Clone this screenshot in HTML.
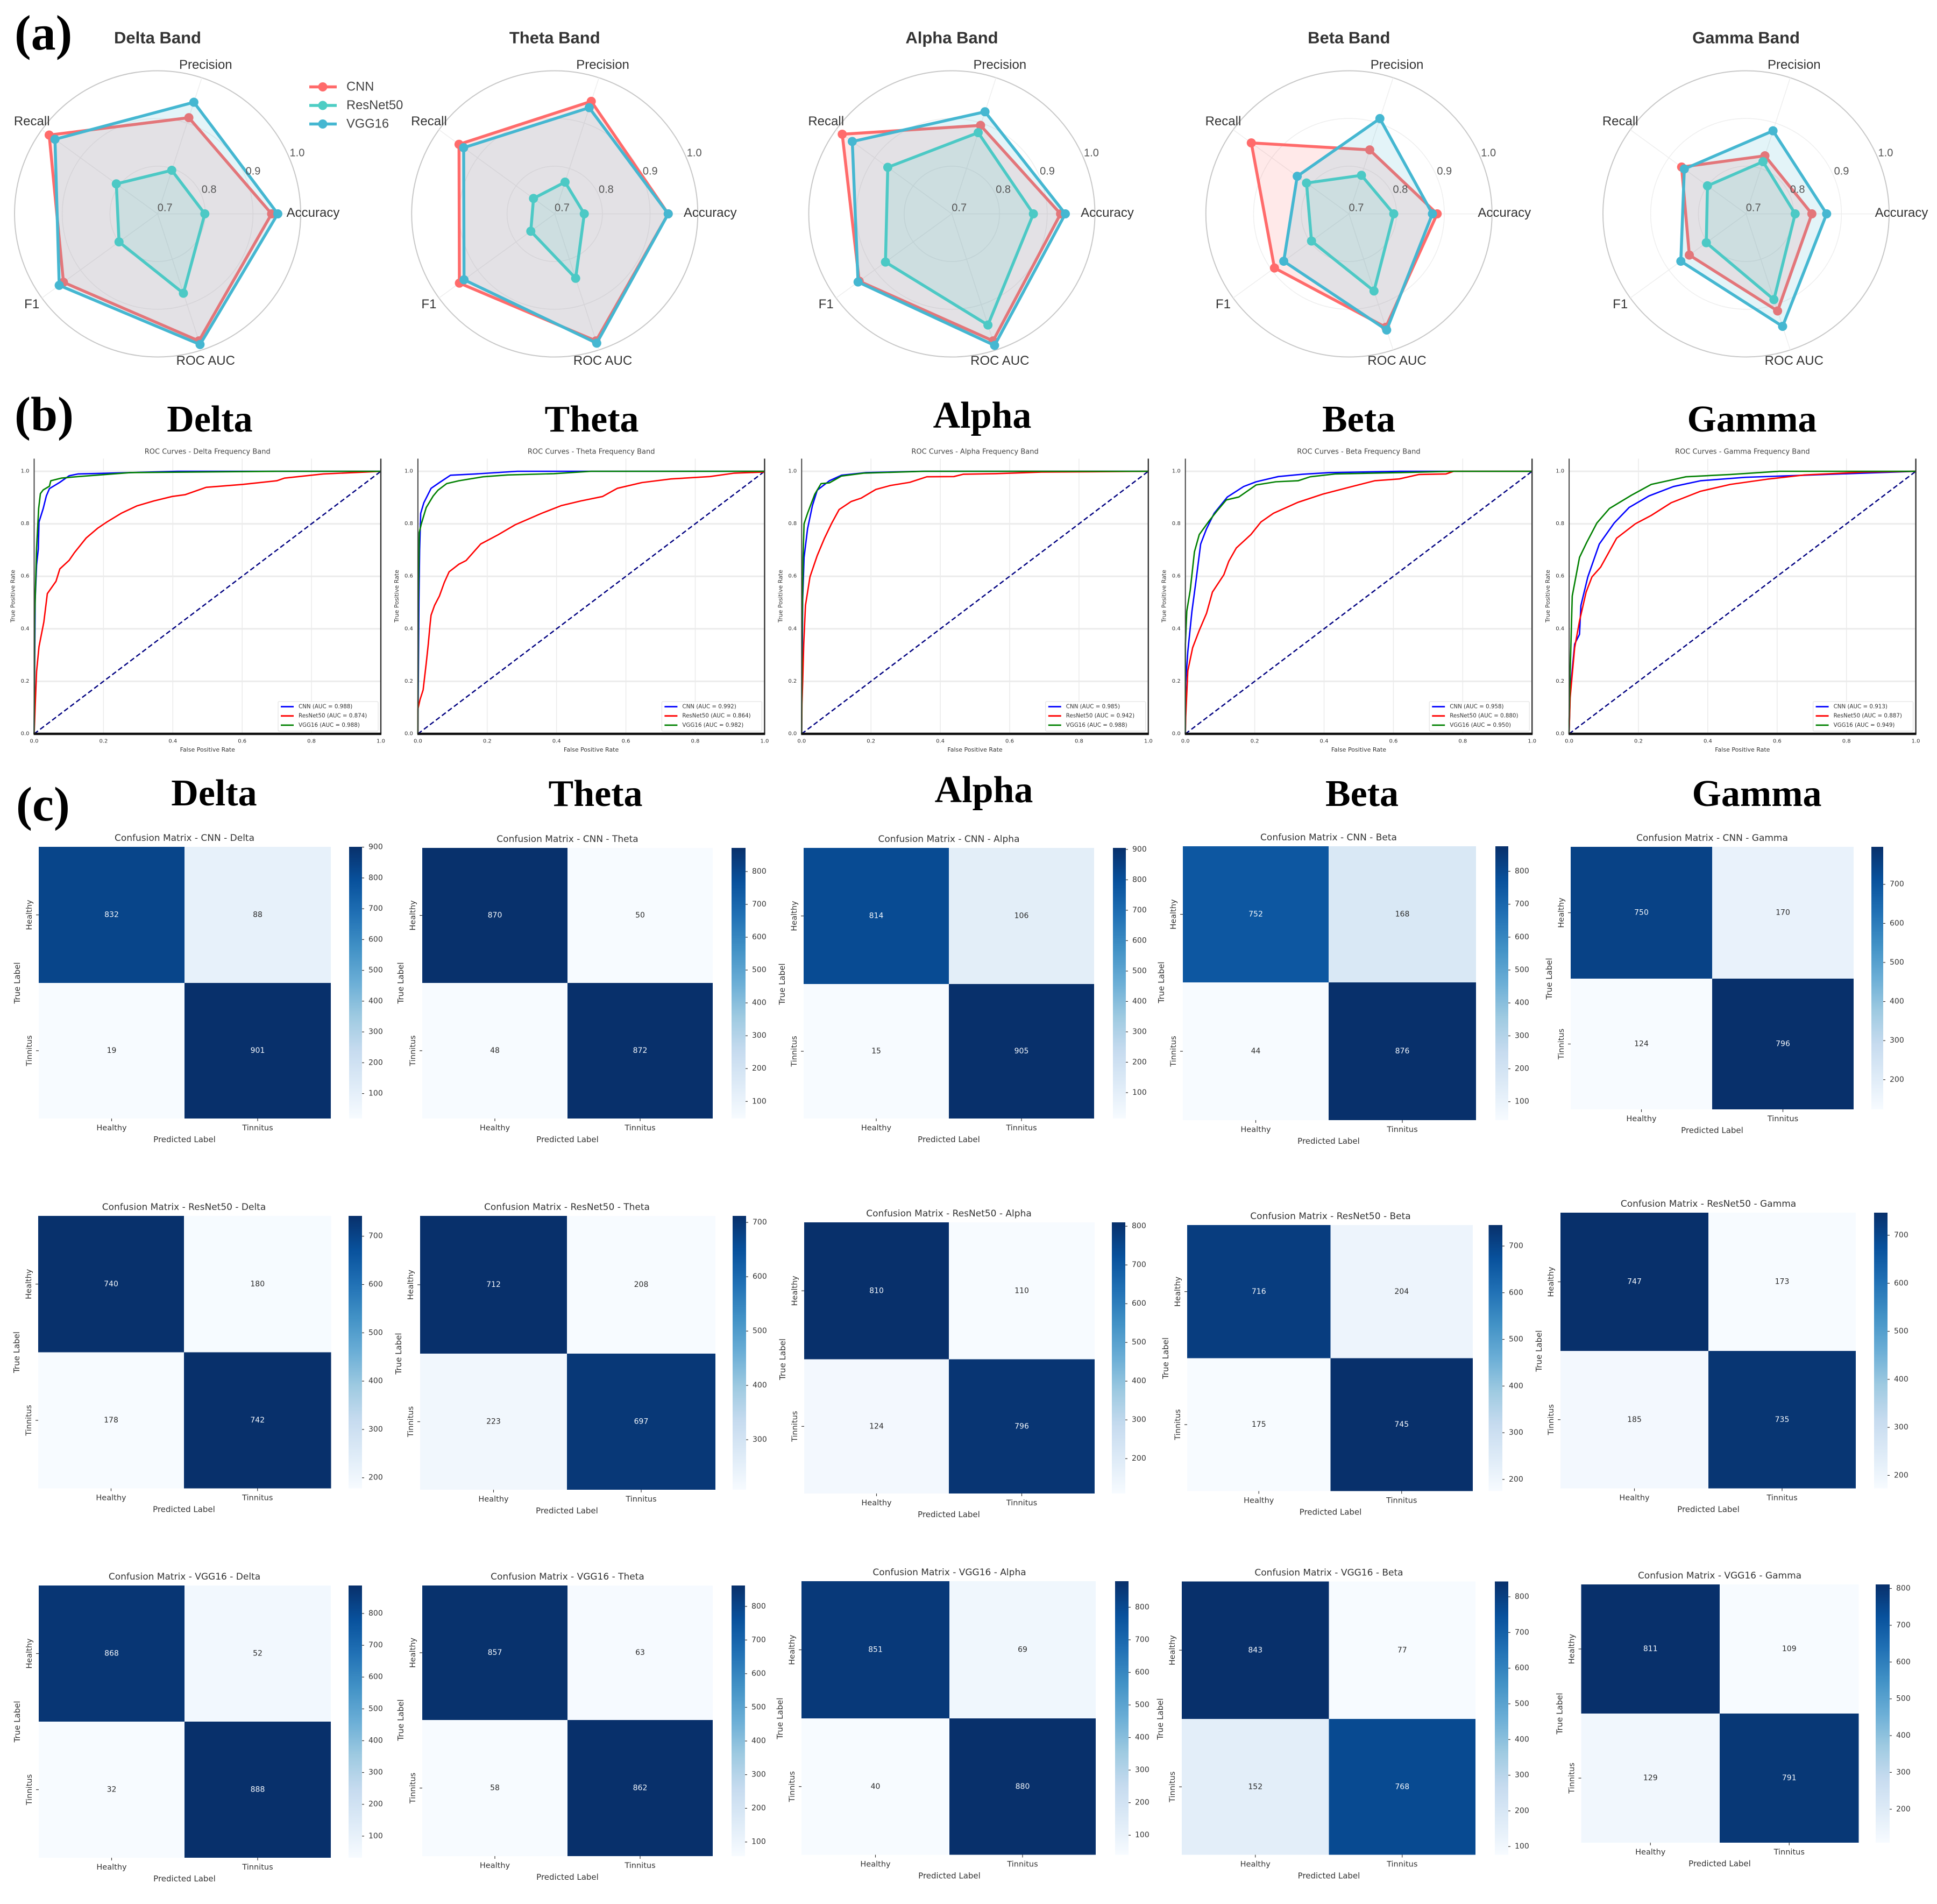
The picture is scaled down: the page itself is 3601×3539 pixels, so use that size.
<!DOCTYPE html>
<html lang="en">
<head>
<meta charset="utf-8">
<title>Radar, ROC and confusion matrix comparison across EEG bands</title>
<style>
html,body{margin:0;padding:0;background:#fff;}
svg{display:block;}
.serif{font-family:"Liberation Serif",serif;font-weight:bold;fill:#000;}
</style>
</head>
<body>
<svg id="figure" xmlns="http://www.w3.org/2000/svg" width="3601" height="3539" viewBox="0 0 3601 3539">
<defs>
<linearGradient id="blues" x1="0" y1="1" x2="0" y2="0">
<stop offset="0" stop-color="#f7fbff"/><stop offset="0.125" stop-color="#deebf7"/><stop offset="0.25" stop-color="#c6dbef"/><stop offset="0.375" stop-color="#9ecae1"/><stop offset="0.5" stop-color="#6baed6"/><stop offset="0.625" stop-color="#4292c6"/><stop offset="0.75" stop-color="#2171b5"/><stop offset="0.875" stop-color="#08519c"/><stop offset="1" stop-color="#08306b"/>
</linearGradient>
</defs>
<rect x="0" y="0" width="3601" height="3539" fill="#fff"/>
<text class="serif" x="27" y="92" font-size="92">(a)</text>
<text class="serif" x="27" y="800" font-size="90">(b)</text>
<text class="serif" x="30" y="1525" font-size="90">(c)</text>
<text class="serif" x="390" y="802" font-size="70" text-anchor="middle">Delta</text>
<text class="serif" x="1100" y="802" font-size="70" text-anchor="middle">Theta</text>
<text class="serif" x="1826" y="795" font-size="70" text-anchor="middle">Alpha</text>
<text class="serif" x="2526" y="802" font-size="70" text-anchor="middle">Beta</text>
<text class="serif" x="3257" y="802" font-size="70" text-anchor="middle">Gamma</text>
<text class="serif" x="398" y="1497" font-size="70" text-anchor="middle">Delta</text>
<text class="serif" x="1107" y="1498" font-size="70" text-anchor="middle">Theta</text>
<text class="serif" x="1829" y="1491" font-size="70" text-anchor="middle">Alpha</text>
<text class="serif" x="2532" y="1498" font-size="70" text-anchor="middle">Beta</text>
<text class="serif" x="3266" y="1498" font-size="70" text-anchor="middle">Gamma</text>
</svg>
<script>
// ---------- shared categories ----------
const bands = ['Delta', 'Theta', 'Alpha', 'Beta', 'Gamma'];
const models = ['CNN', 'ResNet50', 'VGG16'];
const metrics = ['Accuracy', 'Precision', 'Recall', 'F1', 'ROC AUC'];
const radialTicks = [0.7, 0.8, 0.9, 1.0];
const rocTicks = [0, 0.2, 0.4, 0.6, 0.8, 1.0];
const cmClasses = ['Healthy', 'Tinnitus'];

// ---------- radar values: one row per band, columns follow metrics ----------
const radarCnn = [
  [0.939, 0.912, 0.981, 0.944, 0.980],
  [0.938, 0.948, 0.948, 0.947, 0.980],
  [0.928, 0.895, 0.984, 0.940, 0.980],
  [0.885, 0.841, 0.953, 0.893, 0.950],
  [0.838, 0.828, 0.867, 0.847, 0.914]
];
const radarResNet = [
  [0.799, 0.796, 0.807, 0.800, 0.875],
  [0.762, 0.770, 0.755, 0.762, 0.842],
  [0.871, 0.879, 0.866, 0.872, 0.945],
  [0.794, 0.785, 0.810, 0.797, 0.870],
  [0.803, 0.815, 0.800, 0.803, 0.889]
];
const radarVgg = [
  [0.952, 0.946, 0.966, 0.955, 0.988],
  [0.938, 0.934, 0.936, 0.935, 0.985],
  [0.938, 0.925, 0.958, 0.943, 0.990],
  [0.875, 0.910, 0.834, 0.869, 0.956],
  [0.869, 0.883, 0.860, 0.869, 0.948]
];

// ---------- ROC curves ----------
const deltaCnnFpr = [0, 0.0015, 0.003, 0.007, 0.012, 0.014, 0.026, 0.035, 0.044, 0.074, 0.101, 0.127, 0.278, 0.413, 1];
const deltaCnnTpr = [0, 0.285, 0.51, 0.643, 0.704, 0.807, 0.858, 0.906, 0.934, 0.958, 0.983, 0.99, 0.995, 1, 1];
const deltaResFpr = [0, 0.003, 0.007, 0.014, 0.028, 0.038, 0.063, 0.074, 0.101, 0.116, 0.15, 0.184, 0.21, 0.251, 0.296, 0.345, 0.398, 0.436, 0.496, 0.601, 0.70, 0.722, 0.834, 0.955, 1];
const deltaResTpr = [0, 0.106, 0.238, 0.332, 0.426, 0.534, 0.581, 0.628, 0.661, 0.69, 0.746, 0.784, 0.807, 0.84, 0.868, 0.887, 0.904, 0.911, 0.939, 0.95, 0.964, 0.974, 0.99, 0.997, 1];
const deltaVggFpr = [0, 0.0015, 0.007, 0.013, 0.018, 0.026, 0.044, 0.048, 0.078, 0.127, 0.278, 0.70, 1];
const deltaVggTpr = [0, 0.445, 0.708, 0.859, 0.915, 0.929, 0.943, 0.964, 0.974, 0.98, 0.995, 1, 1];

const thetaCnnFpr = [0, 0.003, 0.005, 0.008, 0.017, 0.038, 0.062, 0.094, 0.167, 0.287, 1];
const thetaCnnTpr = [0, 0.5, 0.7, 0.84, 0.88, 0.935, 0.957, 0.985, 0.99, 1, 1];
const thetaResFpr = [0, 0, 0.006, 0.015, 0.024, 0.03, 0.035, 0.038, 0.048, 0.062, 0.076, 0.09, 0.118, 0.139, 0.181, 0.231, 0.28, 0.357, 0.413, 0.47, 0.533, 0.575, 0.646, 0.73, 0.842, 0.913, 0.997, 1];
const thetaResTpr = [0, 0.094, 0.13, 0.167, 0.269, 0.342, 0.416, 0.452, 0.489, 0.525, 0.576, 0.617, 0.646, 0.66, 0.723, 0.758, 0.796, 0.84, 0.869, 0.887, 0.904, 0.935, 0.957, 0.971, 0.98, 0.993, 0.997, 1];
const thetaVggFpr = [0, 0.001, 0.004, 0.01, 0.024, 0.044, 0.058, 0.083, 0.118, 0.188, 0.259, 0.392, 0.5, 1];
const thetaVggTpr = [0, 0.49, 0.767, 0.80, 0.862, 0.906, 0.928, 0.953, 0.964, 0.979, 0.986, 0.991, 1, 1];

const alphaCnnFpr = [0, 0.003, 0.007, 0.017, 0.031, 0.045, 0.08, 0.115, 0.186, 0.347, 1];
const alphaCnnTpr = [0, 0.51, 0.672, 0.781, 0.869, 0.928, 0.964, 0.985, 0.995, 1, 1];
const alphaResFpr = [0, 0.001, 0.003, 0.006, 0.011, 0.024, 0.045, 0.066, 0.087, 0.108, 0.143, 0.172, 0.214, 0.256, 0.312, 0.361, 0.439, 0.467, 0.558, 0.692, 1];
const alphaResTpr = [0, 0.116, 0.196, 0.342, 0.489, 0.598, 0.679, 0.745, 0.803, 0.854, 0.885, 0.898, 0.931, 0.946, 0.958, 0.979, 0.98, 0.989, 0.991, 0.997, 1];
const alphaVggFpr = [0, 0.001, 0.004, 0.007, 0.017, 0.038, 0.056, 0.08, 0.115, 0.179, 0.354, 1];
const alphaVggTpr = [0, 0.342, 0.672, 0.80, 0.84, 0.913, 0.953, 0.956, 0.982, 0.993, 1, 1];

const betaCnnFpr = [0, 0.001, 0.007, 0.019, 0.03, 0.044, 0.061, 0.083, 0.121, 0.168, 0.204, 0.268, 0.339, 0.417, 0.617, 1];
const betaCnnTpr = [0, 0.196, 0.313, 0.467, 0.576, 0.723, 0.781, 0.84, 0.902, 0.942, 0.96, 0.98, 0.989, 0.995, 1, 1];
const betaResFpr = [0, 0.001, 0.007, 0.021, 0.04, 0.061, 0.078, 0.111, 0.125, 0.147, 0.189, 0.218, 0.254, 0.325, 0.396, 0.481, 0.546, 0.617, 0.674, 0.752, 0.774, 1];
const betaResTpr = [0, 0.064, 0.24, 0.328, 0.394, 0.459, 0.54, 0.606, 0.657, 0.708, 0.759, 0.807, 0.84, 0.882, 0.913, 0.942, 0.964, 0.971, 0.988, 0.99, 1, 1];
const betaVggFpr = [0, 0, 0.004, 0.014, 0.026, 0.04, 0.068, 0.09, 0.118, 0.154, 0.204, 0.261, 0.325, 0.36, 0.432, 0.617, 0.774, 1];
const betaVggTpr = [0, 0.342, 0.467, 0.547, 0.693, 0.759, 0.81, 0.847, 0.891, 0.902, 0.948, 0.96, 0.964, 0.979, 0.99, 0.995, 1, 1];

const gammaCnnFpr = [0, 0.003, 0.016, 0.03, 0.034, 0.054, 0.087, 0.13, 0.173, 0.23, 0.301, 0.379, 0.508, 0.679, 0.893, 1];
const gammaCnnTpr = [0, 0.159, 0.342, 0.379, 0.489, 0.598, 0.723, 0.803, 0.862, 0.906, 0.942, 0.964, 0.977, 0.985, 0.995, 1];
const gammaResFpr = [0, 0.003, 0.016, 0.03, 0.049, 0.066, 0.091, 0.137, 0.191, 0.237, 0.294, 0.379, 0.465, 0.572, 0.679, 0.85, 1];
const gammaResTpr = [0, 0.138, 0.328, 0.43, 0.54, 0.598, 0.635, 0.745, 0.80, 0.832, 0.88, 0.924, 0.95, 0.97, 0.986, 0.997, 1];
const gammaVggFpr = [0, 0, 0.003, 0.009, 0.03, 0.051, 0.08, 0.116, 0.18, 0.237, 0.337, 0.465, 0.607, 1];
const gammaVggTpr = [0, 0.05, 0.233, 0.525, 0.672, 0.73, 0.803, 0.858, 0.909, 0.95, 0.979, 0.988, 1, 1];

const aucCnn = ['0.988', '0.992', '0.985', '0.958', '0.913'];
const aucResNet = ['0.874', '0.864', '0.942', '0.880', '0.887'];
const aucVgg = ['0.988', '0.982', '0.988', '0.950', '0.949'];

// ---------- confusion matrix counts: [TL, TR, BL, BR] ----------
const cmCnnDelta = [832, 88, 19, 901];
const cmCnnTheta = [870, 50, 48, 872];
const cmCnnAlpha = [814, 106, 15, 905];
const cmCnnBeta = [752, 168, 44, 876];
const cmCnnGamma = [750, 170, 124, 796];
const cmResNetDelta = [740, 180, 178, 742];
const cmResNetTheta = [712, 208, 223, 697];
const cmResNetAlpha = [810, 110, 124, 796];
const cmResNetBeta = [716, 204, 175, 745];
const cmResNetGamma = [747, 173, 185, 735];
const cmVggDelta = [868, 52, 32, 888];
const cmVggTheta = [857, 63, 58, 862];
const cmVggAlpha = [851, 69, 40, 880];
const cmVggBeta = [843, 77, 152, 768];
const cmVggGamma = [811, 109, 129, 791];

// ---------- references and page layout (not data) ----------
const rocFprByBand = [
  [deltaCnnFpr, deltaResFpr, deltaVggFpr],
  [thetaCnnFpr, thetaResFpr, thetaVggFpr],
  [alphaCnnFpr, alphaResFpr, alphaVggFpr],
  [betaCnnFpr, betaResFpr, betaVggFpr],
  [gammaCnnFpr, gammaResFpr, gammaVggFpr]
];
const rocTprByBand = [
  [deltaCnnTpr, deltaResTpr, deltaVggTpr],
  [thetaCnnTpr, thetaResTpr, thetaVggTpr],
  [alphaCnnTpr, alphaResTpr, alphaVggTpr],
  [betaCnnTpr, betaResTpr, betaVggTpr],
  [gammaCnnTpr, gammaResTpr, gammaVggTpr]
];
const cmGrid = [
  [cmCnnDelta, cmCnnTheta, cmCnnAlpha, cmCnnBeta, cmCnnGamma],
  [cmResNetDelta, cmResNetTheta, cmResNetAlpha, cmResNetBeta, cmResNetGamma],
  [cmVggDelta, cmVggTheta, cmVggAlpha, cmVggBeta, cmVggGamma]
];
// each box: left, midX, right, top, midY, bottom, colorbarLeft, colorbarRight
const cmBoxes = [
  [[72,343,615,1574,1827,2079,649,673],[785,1055,1325,1576,1827,2079,1360,1386],[1494,1764,2034,1576,1829,2079,2069,2093],[2199,2470,2744,1573,1826,2082,2780,2804],[2920,3183,3446,1574,1819,2062,3479,3501]],
  [[71,342,615.5,2260,2513.5,2766.5,648,673],[781,1054,1330,2260,2516,2769,1362,1387],[1495,1764,2035,2272,2526.5,2776,2067,2092],[2207,2473.5,2738,2277,2524.5,2771.5,2767.5,2793],[2901,3176,3450,2254,2511,2766.5,3484,3509]],
  [[72,343,615,2947,3200,3453,648,673],[785,1055,1325,2947,3197,3450,1360,1385],[1490,1765,2037,2939,3194,3447.5,2073,2098],[2197,2470.5,2743,2939.5,3195,3447.5,2779,2804],[2939.5,3197,3455.5,2945,3185,3425,3487,3513]]
];
const radarColors = ['#FF6B6B', '#4ECDC4', '#45B7D1'];
const rocColors = ['#0000ff', '#ff0000', '#008000'];
const bluesStops = [[247,251,255],[222,235,247],[198,219,239],[158,202,225],[107,174,214],[66,146,198],[33,113,181],[8,81,156],[8,48,107]];

const SVG_NS = 'http://www.w3.org/2000/svg';
const root = document.getElementById('figure');
const SANS = '"Liberation Sans", sans-serif';
const DEJAVU = '"DejaVu Sans", sans-serif';

function mk(tag, attrs, parent, content) {
  const el = document.createElementNS(SVG_NS, tag);
  for (const k in attrs) el.setAttribute(k, attrs[k]);
  if (content !== undefined) el.textContent = content;
  parent.appendChild(el);
  return el;
}
function label(parent, x, y, str, size, family, fill, anchor, rotate) {
  const attrs = {x: x, y: y, 'font-size': size, 'font-family': family, fill: fill, 'text-anchor': anchor || 'middle', 'dominant-baseline': 'central'};
  if (rotate) attrs.transform = 'rotate(' + rotate + ' ' + x + ' ' + y + ')';
  return mk('text', attrs, parent, str);
}
function slug(s) { return s.toLowerCase().replace(/[^a-z0-9]+/g, '-'); }

// ---------- radar panels ----------
const RADAR_CY = 397.5, RADAR_R = 266, RADAR_MIN = 0.7, RADAR_MAX = 1.0;
function radarCx(b) { return 293 + b * 738.25; }
function radarRadius(v) { return (v - RADAR_MIN) / (RADAR_MAX - RADAR_MIN) * RADAR_R; }
function radarAngle(i) { return i * 2 * Math.PI / metrics.length; }
function radarPoint(cx, i, r) { return [cx + r * Math.cos(radarAngle(i)), RADAR_CY - r * Math.sin(radarAngle(i))]; }

bands.forEach(function (band, b) {
  const cx = radarCx(b);
  const g = mk('g', {}, root);
  
  

  const title = label(g, cx, 70, band + ' Band', 31, SANS, '#333');
  title.setAttribute('font-weight', 'bold');
  
  

  radialTicks.forEach(function (t) {
    const r = radarRadius(t);
    if (r > 0) {
      const ring = mk('circle', {cx: cx, cy: RADAR_CY, r: r, fill: 'none', stroke: t === RADAR_MAX ? '#c8c8c8' : '#eeeeee', 'stroke-width': t === RADAR_MAX ? 2 : 1.5}, g);
      
      
    }
  });
  metrics.forEach(function (m, i) {
    const p = radarPoint(cx, i, RADAR_R);
    const spoke = mk('line', {x1: cx, y1: RADAR_CY, x2: p[0], y2: p[1], stroke: '#eeeeee', 'stroke-width': 1.5}, g);
    
    
  });

  [radarCnn, radarResNet, radarVgg].forEach(function (series, s) {
    const pts = series[b].map(function (v, i) { return radarPoint(cx, i, radarRadius(v)); });
    const sg = mk('g', {}, g);
    
    
    const poly = mk('polygon', {points: pts.map(function (p) { return p.join(','); }).join(' '), fill: radarColors[s], 'fill-opacity': 0.15, stroke: radarColors[s], 'stroke-width': 5.5, 'stroke-linejoin': 'round'}, sg);
    
    
    pts.forEach(function (p) {
      const dot = mk('circle', {cx: p[0], cy: p[1], r: 8.5, fill: radarColors[s]}, sg);
      
      
    });
  });

  radialTicks.forEach(function (t) {
    const r = radarRadius(t);
    const a = Math.PI / 8;
    const tick = label(g, cx + r * Math.cos(a) + 13.7, RADAR_CY - r * Math.sin(a) - 11, t.toFixed(1), 20, SANS, '#555');
    
    
  });
  metrics.forEach(function (m, i) {
    const p = radarPoint(cx, i, 289);
    const lab = label(g, p[0], p[1] - 2, m, 24, SANS, '#333');
    
    
  });
});

// radar legend
(function () {
  const g = mk('g', {}, root);
  
  
  models.forEach(function (m, s) {
    const y = 161.5 + s * 34.5;
    const line = mk('line', {x1: 575, y1: y, x2: 626, y2: y, stroke: radarColors[s], 'stroke-width': 5.5}, g);
    
    
    const dot = mk('circle', {cx: 600, cy: y, r: 8.5, fill: radarColors[s]}, g);
    
    
    const txt = label(g, 644, y, m, 23.7, SANS, '#444', 'start');
    
    
  });
})();

// ---------- ROC panels ----------
const ROC_WIDTH = 644.5, ROC_BOTTOM = 1364, ROC_UNIT = 488, ROC_TOP = 852.5;
function rocLeft(b) { return 63.5 + b * 713.4; }
function rocX(b, f) { return rocLeft(b) + f * ROC_WIDTH; }
function rocY(t) { return ROC_BOTTOM - t * ROC_UNIT; }

bands.forEach(function (band, b) {
  const left = rocLeft(b), right = left + ROC_WIDTH;
  const g = mk('g', {}, root);
  
  

  const title = label(g, left + ROC_WIDTH / 2, 840, 'ROC Curves - ' + band + ' Frequency Band', 13, DEJAVU, '#444');
  
  

  rocTicks.forEach(function (t) {
    const gh = mk('line', {x1: left, x2: right, y1: rocY(t), y2: rocY(t), stroke: '#ececec', 'stroke-width': 3}, g);
    
    
    const gv = mk('line', {x1: rocX(b, t), x2: rocX(b, t), y1: ROC_TOP, y2: ROC_BOTTOM, stroke: '#eaeaea', 'stroke-width': 1.5}, g);
    
    
    const tx = label(g, rocX(b, t), 1378, t.toFixed(1), 10, DEJAVU, '#333');
    
    
    const ty = label(g, left - 9, rocY(t), t.toFixed(1), 10, DEJAVU, '#333', 'end');
    
    
  });

  const diag = mk('line', {x1: rocX(b, 0), y1: rocY(0), x2: rocX(b, 1), y2: rocY(1), stroke: '#000080', 'stroke-width': 2.4, 'stroke-dasharray': '9 5'}, g);
  
  

  models.forEach(function (m, s) {
    const fpr = rocFprByBand[b][s], tpr = rocTprByBand[b][s];
    const pts = fpr.map(function (f, i) { return rocX(b, f).toFixed(1) + ',' + rocY(tpr[i]).toFixed(1); }).join(' ');
    const curve = mk('polyline', {points: pts, fill: 'none', stroke: rocColors[s], 'stroke-width': 2.6, 'stroke-linejoin': 'round'}, g);
    
    
  });

  const spineL = mk('line', {x1: left, x2: left, y1: ROC_TOP, y2: ROC_BOTTOM, stroke: '#444', 'stroke-width': 2}, g);
  
  
  const spineR = mk('line', {x1: right, x2: right, y1: ROC_TOP, y2: ROC_BOTTOM, stroke: '#333', 'stroke-width': 2.4}, g);
  
  
  const spineB = mk('line', {x1: left - 1, x2: right + 1, y1: ROC_BOTTOM, y2: ROC_BOTTOM, stroke: '#111', 'stroke-width': 4.5}, g);
  
  

  const xl = label(g, left + ROC_WIDTH / 2, 1393.5, 'False Positive Rate', 11, DEJAVU, '#333');
  
  
  const yl = label(g, left - 39.5, 1108, 'True Positive Rate', 11, DEJAVU, '#333', 'middle', -90);
  
  

  const lg = mk('g', {}, g);
  
  
  const lx = right - 191;
  const box = mk('rect', {x: lx, y: 1304, width: 186, height: 55, fill: '#fff', 'fill-opacity': 0.85, stroke: '#e2e2e2', 'stroke-width': 1.2, rx: 2}, lg);
  
  
  [aucCnn, aucResNet, aucVgg].forEach(function (aucs, s) {
    const y = 1313.5 + s * 17.2;
    const key = mk('line', {x1: lx + 5, x2: lx + 29, y1: y, y2: y, stroke: rocColors[s], 'stroke-width': 2.8}, lg);
    
    
    const t = label(lg, lx + 38, y, models[s] + ' (AUC = ' + aucs[b] + ')', 10.3, DEJAVU, '#333', 'start');
    
    
  });
});

// ---------- confusion matrices ----------
function blues(n) {
  const p = Math.max(0, Math.min(1, n)) * (bluesStops.length - 1);
  const i = Math.min(Math.floor(p), bluesStops.length - 2);
  const f = p - i;
  const c = bluesStops[i].map(function (v, k) { return Math.round(v + (bluesStops[i + 1][k] - v) * f); });
  return 'rgb(' + c.join(',') + ')';
}
cmGrid.forEach(function (row, r) {
  row.forEach(function (vals, b) {
    const box = cmBoxes[r][b];
    const L = box[0], MX = box[1], R = box[2], T = box[3], MY = box[4], B = box[5], CL = box[6], CR = box[7];
    const vmin = Math.min.apply(null, vals), vmax = Math.max.apply(null, vals);
    const g = mk('g', {}, root);
    
    

    const title = label(g, MX, T - 16, 'Confusion Matrix - ' + models[r] + ' - ' + bands[b], 17, DEJAVU, '#333');
    
    

    vals.forEach(function (v, i) {
      const x0 = i % 2 === 0 ? L : MX, x1 = i % 2 === 0 ? MX : R;
      const y0 = i < 2 ? T : MY, y1 = i < 2 ? MY : B;
      const n = (v - vmin) / (vmax - vmin);
      const cell = mk('rect', {x: x0, y: y0, width: x1 - x0, height: y1 - y0, fill: blues(n)}, g);
      
      
      const ann = label(g, (x0 + x1) / 2, (y0 + y1) / 2, String(v), 14, DEJAVU, n > 0.55 ? '#f2f6fb' : '#2a2a2a');
      
      
    });

    cmClasses.forEach(function (c, i) {
      const cxTick = i === 0 ? (L + MX) / 2 : (MX + R) / 2;
      const cyTick = i === 0 ? (T + MY) / 2 : (MY + B) / 2;
      const xt = mk('line', {x1: cxTick, x2: cxTick, y1: B, y2: B + 5, stroke: '#333', 'stroke-width': 1.2}, g);
      
      
      const xtl = label(g, cxTick, B + 18, c, 14.5, DEJAVU, '#333');
      
      
      const yt = mk('line', {x1: L - 5, x2: L, y1: cyTick, y2: cyTick, stroke: '#333', 'stroke-width': 1.2}, g);
      
      
      const ytl = label(g, L - 17, cyTick, c, 14.5, DEJAVU, '#333', 'middle', -90);
      
      
    });

    const xl = label(g, MX, B + 39, 'Predicted Label', 15, DEJAVU, '#333');
    
    
    const yl = label(g, L - 40, MY, 'True Label', 15, DEJAVU, '#333', 'middle', -90);
    
    

    const bar = mk('rect', {x: CL, y: T, width: CR - CL, height: B - T, fill: 'url(#blues)'}, g);
    
    
    for (let t = Math.ceil(vmin / 100) * 100; t <= vmax; t += 100) {
      const y = B - (t - vmin) / (vmax - vmin) * (B - T);
      const tick = mk('line', {x1: CR, x2: CR + 4, y1: y, y2: y, stroke: '#333', 'stroke-width': 1.2}, g);
      
      
      const tl = label(g, CR + 12, y, String(t), 14, DEJAVU, '#333', 'start');
      
      
    }
  });
});
</script>
</body>
</html>
